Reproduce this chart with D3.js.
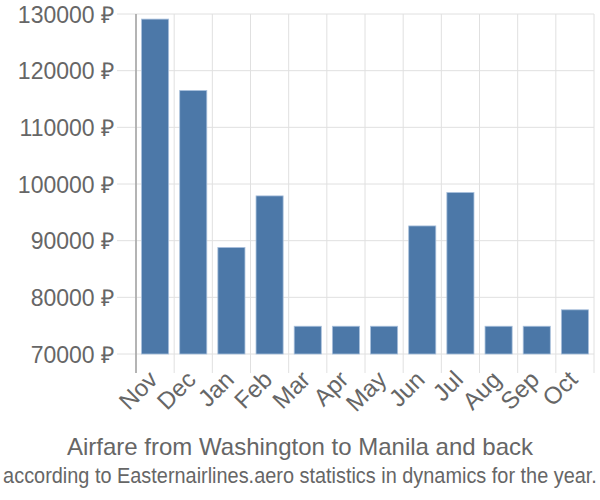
<!DOCTYPE html>
<html><head><meta charset="utf-8">
<script src="https://cdn.jsdelivr.net/npm/d3@7"></script>
<style>body{margin:0;background:#fff;} svg{display:block;font-family:"Liberation Sans",Arial,sans-serif;}</style>
</head><body>
<svg id="c" width="600" height="500"></svg>
<script>
const months = ["Nov","Dec","Jan","Feb","Mar","Apr","May","Jun","Jul","Aug","Sep","Oct"];
const prices = [129100,116500,88800,97900,74900,74900,74900,92600,98500,74900,74900,77800];
const yTicks = [70000,80000,90000,100000,110000,120000,130000];
const title = "Airfare from Washington to Manila and back";
const subtitle = "according to Easternairlines.aero statistics in dynamics for the year.";

const svg = d3.select("#c");
const L = 136, R = 594, T = 14, B = 354;
const x = d3.scaleBand().domain(months).range([L, R]).paddingInner(0.29).paddingOuter(0.145);
const xb = d3.scaleBand().domain(months).range([L, R]);
const y = d3.scaleLinear().domain([70000,130000]).range([B, T]);

const grid = svg.append("g");
grid.selectAll("line.h").data(yTicks).join("line")
  .attr("x1", L - 19).attr("x2", R)
  .attr("y1", d => y(d)).attr("y2", d => y(d))
  .attr("stroke", "#e0e0e0").attr("stroke-width", 1);
const bounds = months.map(m => xb(m)).concat([R]);
grid.selectAll("line.v").data(bounds).join("line")
  .attr("x1", d => d).attr("x2", d => d)
  .attr("y1", T).attr("y2", B + 19)
  .attr("stroke", "#e0e0e0").attr("stroke-width", 1);

svg.append("g").selectAll("rect").data(months).join("rect")
  .attr("x", d => x(d)).attr("width", x.bandwidth())
  .attr("y", (d,i) => y(prices[i])).attr("height", (d,i) => B - y(prices[i]))
  .attr("fill", "#4c78a8").attr("stroke", "#a9c0dc").attr("stroke-width", 0.8);

svg.append("line").attr("x1", L).attr("x2", L).attr("y1", T).attr("y2", B + 19)
  .attr("stroke", "#a0a0a0").attr("stroke-width", 1.5);

svg.append("g").selectAll("text").data(yTicks).join("text")
  .attr("x", 114).attr("y", d => y(d) + 8.5)
  .attr("text-anchor", "end").attr("font-size", 23).attr("fill", "#666")
  .text(d => d + " ₽");

svg.append("g").selectAll("text").data(months).join("text")
  .attr("text-anchor", "end").attr("font-size", 24).attr("fill", "#666")
  .attr("transform", d => `translate(${xb(d) + xb.bandwidth()/2 + 4},${B + 27}) rotate(-45)`)
  .text(d => d);

svg.append("text").attr("x", 300).attr("y", 455).attr("text-anchor", "middle")
  .attr("font-size", 24).attr("fill", "#666").text(title);
const sub = svg.append("text").attr("x", 0).attr("y", 0).attr("text-anchor", "middle")
  .attr("font-size", 22).attr("fill", "#666").text(subtitle);
const w = sub.node().getComputedTextLength();
sub.attr("transform", `translate(300,483) scale(${594 / w},1)`);
</script>
</body></html>
